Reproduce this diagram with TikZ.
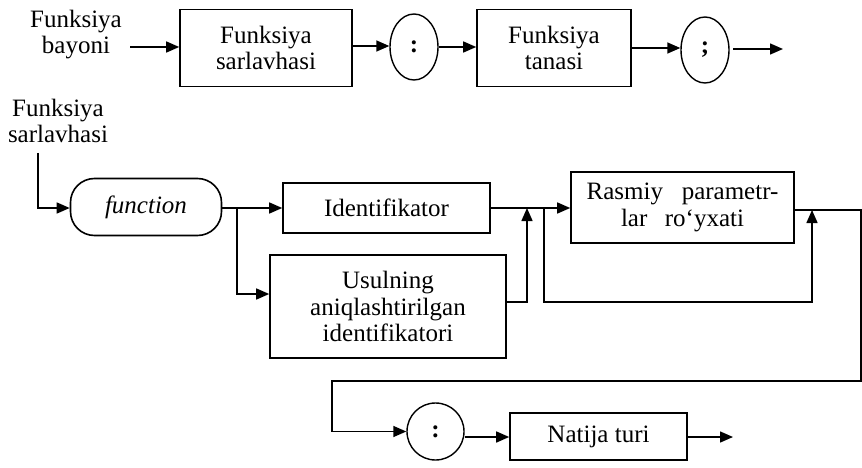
\documentclass[tikz,border=0pt]{standalone}
\usepackage{fontspec}
\setmainfont{Liberation Serif}
\usetikzlibrary{arrows.meta,shapes.geometric}
\tikzset{
  lbl/.style={font=\fontsize{25}{26}\selectfont, align=center, inner sep=0pt},
  boxn/.style={draw, line width=1.6pt, font=\fontsize{25}{26.5}\selectfont, align=center, inner sep=0pt},
  ovaln/.style={draw, ellipse, line width=1.4pt, font=\fontsize{25}{26}\selectfont, inner sep=0pt},
  conn/.style={line width=1.5pt},
  arr/.style={line width=1.5pt, -{Triangle[length=13pt,width=11pt]}},
}
\begin{document}
\begin{tikzpicture}[x=1pt,y=-1pt]
\useasboundingbox (0,0) rectangle (862,468);
% top row
\node[lbl] (bay) at (76,35) {Funksiya\\bayoni};
\node[boxn, minimum width=172pt, minimum height=77pt] (fs) at (266,48) {Funksiya\\sarlavhasi};
\node[ovaln, minimum width=48pt, minimum height=66pt] (c1) at (414,47) {\textbf{:}};
\node[boxn, minimum width=154pt, minimum height=77pt] (ft) at (554,48) {Funksiya\\tanasi};
\node[ovaln, minimum width=48pt, minimum height=66pt] (c2) at (705,50) {\textbf{;}};
\coordinate (e1s) at (733,49);
\coordinate (e1) at (783,49);
\draw[arr] (130,47) coordinate (bs) -- (bs -| fs.west);
\draw[arr] (fs.east |- 0,46) -- (c1.west |- 0,46);
\draw[arr] (c1.east |- 0,47) -- (ft.west |- 0,47);
\draw[arr] (ft.east |- 0,48) -- (c2.west |- 0,48);
\draw[arr] (e1s) -- (e1);
% second part
\node[lbl] (sh) at (58,121) {Funksiya\\sarlavhasi};
\node[draw, rounded corners=24pt, line width=1.6pt, minimum width=151pt, minimum height=57pt, inner sep=0pt, font=\fontsize{25}{26}\selectfont\itshape] (fn) at (146,207) {function};
\node[boxn, minimum width=207pt, minimum height=50pt] (id) at (386.5,208) {Identifikator};
\node[boxn, minimum width=236pt, minimum height=103pt] (us) at (388,306.5) {Usulning\\aniqlashtirilgan\\identifikatori};
\node[boxn, minimum width=223pt, minimum height=71pt] (rp) at (682.5,207.5) {Rasmiy\hspace{0.75em}parametr-\\lar\hspace{0.7em}ro‘yxati};
\node[ovaln, circle, minimum size=57pt] (c3) at (435.5,431.5) {\textbf{:}};
\node[boxn, minimum width=177pt, minimum height=47pt] (nt) at (598.5,436.5) {Natija turi};
\coordinate (shs) at (38,153);
\coordinate (br1) at (237,208);
\coordinate (j1) at (527,208);
\coordinate (b1) at (544,208);
\coordinate (j2) at (812,210);
\coordinate (rr) at (861,210);
\coordinate (lb) at (332,381);
\coordinate (e2) at (733,437);
\draw[arr] (shs) |- (fn.west |- 0,208);
\draw[arr] (fn.east |- br1) -- (id.west |- br1);
\draw[arr] (br1) |- ([yshift=12.5pt]us.west);
\draw[arr] ([yshift=4.5pt]us.east) -| (j1);
\draw[arr] (id.east |- j1) -- (rp.west |- j1);
\draw[arr] (b1) |- (j2 |- 0,302) -- (j2);
\draw[arr] (rp.east |- rr) -- (rr) |- (lb) |- (c3.west);
\draw[arr] (c3.east |- 0,437) -- (nt.west |- 0,437);
\draw[arr] (nt.east |- e2) -- (e2);
\end{tikzpicture}
\end{document}
